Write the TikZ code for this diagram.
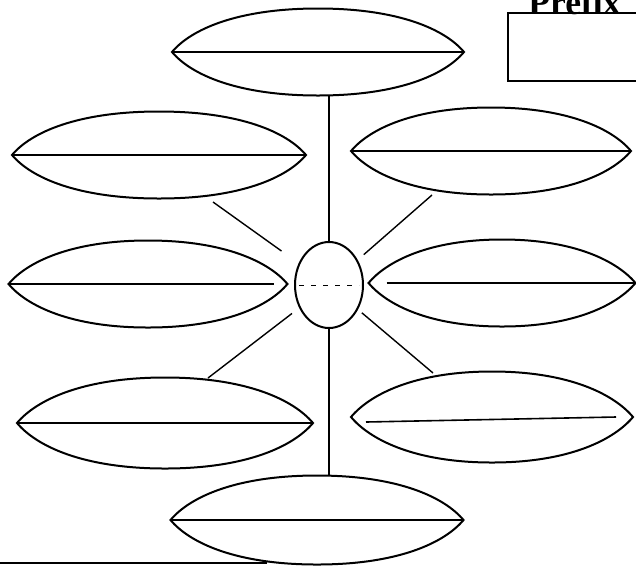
\documentclass[tikz,border=0pt]{standalone}
\usepackage{fontspec}
\setmainfont{Liberation Serif}
\usetikzlibrary{shapes.geometric}

% pointed leaf outline through the anchors of a node
\tikzset{tip/.style={out looseness=0.5, in looseness=1.35}}
\newcommand{\leafoutline}[1]{%
  \draw (#1.west) to[out=50,in=180,tip] (#1.north)
        to[out=0,in=130,looseness=1,out looseness=1.35,in looseness=0.5] (#1.east)
        to[out=-130,in=0,out looseness=0.5,in looseness=1.35] (#1.south)
        to[out=180,in=-50,out looseness=1.35,in looseness=0.5] cycle;}

\begin{document}
\begin{tikzpicture}[x=1pt, y=-1pt, line width=2pt,
        leaf/.style={ellipse, inner sep=0pt, minimum width=290pt, minimum height=85pt},
        hubnode/.style={ellipse, draw=black, inner sep=0pt, minimum width=68pt, minimum height=86pt},
        midline/.style={line width=1.6pt},
        spoke/.style={line width=1.4pt}]
        \useasboundingbox (0,0) rectangle (636,566);

        \node[hubnode] (hub) at (329,285) {};
        \node[leaf] (top) at (318,52) {};
        \node[leaf, minimum width=292pt] (upl) at (159,155) {};
        \node[leaf, minimum width=278pt] (upr) at (491,151) {};
        \node[leaf, minimum width=277pt] (midl) at (148,284) {};
        \node[leaf, minimum width=265pt] (midr) at (502,283) {};
        \node[leaf, minimum width=294pt, minimum height=89pt] (lowl) at (165,423) {};
        \node[leaf, minimum width=280pt, minimum height=89pt] (lowr) at (492,417) {};
        \node[leaf, minimum width=291pt, minimum height=87pt] (bot) at (317,520) {};
        \foreach \n in {top,upl,upr,midl,midr,lowl,lowr,bot}
          \leafoutline{\n};

        % lines inside the leaves
        \draw[midline] (top.west) -- (top.east);
        \draw[midline] (upl.west) -- (upl.east);
        \draw[midline] (upr.west) -- (upr.east);
        \draw[midline, shorten >=14pt] (midl.west) -- (midl.east);
        \draw[midline, shorten <=18pt] (midr.west) -- (midr.east);
        \draw[midline] (lowl.west) -- (lowl.east);
        \draw[midline] ([shift={(15,5)}]lowr.west) -- ([shift={(-17,0)}]lowr.east);
        \draw[midline] (bot.west) -- (bot.east);
        \draw[line width=0.8pt, dash pattern=on 5pt off 7pt] ([xshift=-30pt]hub.center) -- ([xshift=30pt]hub.center);

        % spokes
        \coordinate (ul) at (213,202);
        \coordinate (ur) at (432,195);
        \coordinate (ll) at (208,378);
        \coordinate (lr) at (433,373);
        \draw[spoke] (hub.north) -- (hub.north |- top.south);
        \draw[spoke] (hub.south) -- (hub.south |- bot.north);
        \draw[spoke, shorten <=21pt] (hub) -- (ul);
        \draw[spoke, shorten <=8pt] (hub) -- (ur);
        \draw[spoke, shorten <=9pt] (hub) -- (ll);
        \draw[spoke, shorten <=5pt] (hub) -- (lr);

        % prefix box
        \node[font=\bfseries\fontsize{35.6}{40}\selectfont, anchor=base, inner sep=0pt] (title) at (574.5,14) {Prefix};
        \draw[line width=1.5pt] (508,13) rectangle (660,81);
        \draw[line width=2pt] (0,563) -- (267,563);
\end{tikzpicture}
\end{document}
